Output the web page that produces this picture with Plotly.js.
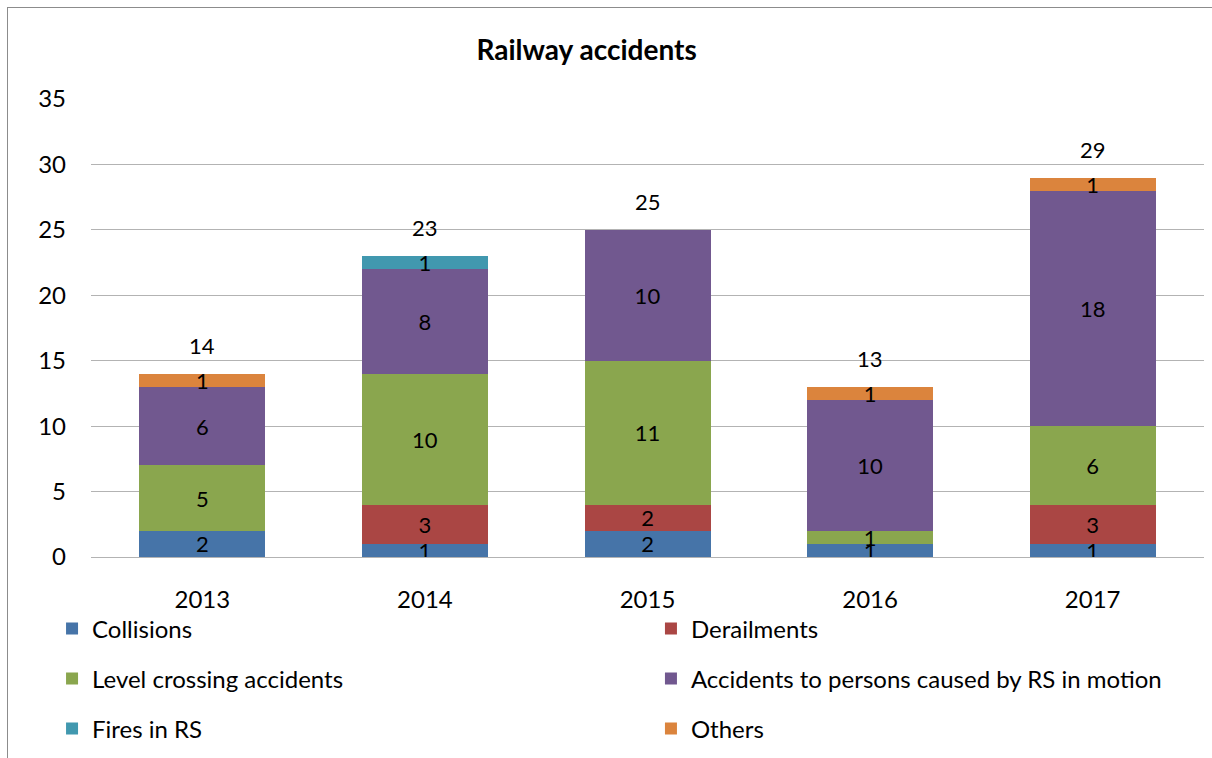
<!DOCTYPE html>
<html>
<head>
<meta charset="utf-8">
<script src="https://cdn.plot.ly/plotly-3.0.1.min.js"></script>
<style>
  body { margin: 0; background: #fff; }
  #chart { width: 1212px; height: 758px; }
  #frame { position: absolute; left: 7px; top: 7px; width: 1220px; height: 780px;
           border: 1px solid #8c8c8c; pointer-events: none; }
</style>
</head>
<body>
<div id="chart"></div>
<div id="frame"></div>
<script>
var years = ['2013', '2014', '2015', '2016', '2017'];
var collisions = [2, 1, 2, 1, 1];
var derailments = [0, 3, 2, 0, 3];
var levelCrossing = [5, 10, 11, 1, 6];
var personsRS = [6, 8, 10, 10, 18];
var firesRS = [0, 1, 0, 0, 0];
var others = [1, 0, 0, 1, 1];

var names = ['Collisions', 'Derailments', 'Level crossing accidents',
  'Accidents to persons caused by RS in motion', 'Fires in RS', 'Others'];
var series = [collisions, derailments, levelCrossing, personsRS, firesRS, others];
var colors = ['#4674a8', '#aa4644', '#8aa64e', '#71588f', '#4198af', '#db843d'];

var font = 'Lato, "Open Sans", sans-serif';

// legend spots: 2 columns, 3 rows
var legX = [-0.0350, 0.5031];
var legY = [-0.1547, -0.2636, -0.3725];

var data = [];
var layout = {
  width: 1212,
  height: 758,
  margin: {l: 91, r: 8, t: 99, b: 200},
  paper_bgcolor: '#fff',
  plot_bgcolor: '#fff',
  font: {family: font, size: 22, color: '#000'},
  showlegend: true,
  title: {
    text: '<b>Railway accidents</b>',
    font: {family: font, size: 28, color: '#000'},
    x: 0.484, xanchor: 'center', xref: 'container',
    y: 1 - 50 / 758, yanchor: 'middle', yref: 'container'
  },
  barmode: 'stack',
  bargap: 0.434,
  xaxis: {
    type: 'category',
    showgrid: false,
    showline: false,
    ticks: '',
    tickfont: {size: 24},
    ticklabelstandoff: 26
  },
  yaxis: {
    range: [0, 35],
    dtick: 5,
    showgrid: true,
    gridcolor: '#b3b3b3',
    gridwidth: 1,
    zeroline: true,
    zerolinecolor: '#b3b3b3',
    zerolinewidth: 1,
    showline: false,
    ticks: '',
    tickfont: {size: 24},
    ticklabelstandoff: 24
  },
  uniformtext: {mode: 'show', minsize: 22},
  annotations: []
};

for (var i = 0; i < series.length; i++) {
  var legName = i === 0 ? 'legend' : 'legend' + (i + 1);
  data.push({
    type: 'bar',
    name: names[i],
    x: years,
    y: series[i],
    text: series[i].map(function (v) { return v ? String(v) : ''; }),
    textposition: 'inside',
    insidetextanchor: 'middle',
    textangle: 0,
    constraintext: 'none',
    textfont: {family: font, size: 22, color: '#000'},
    marker: {color: colors[i], line: {width: 0}},
    hoverinfo: 'name+y',
    showlegend: true,
    legend: legName
  });
  layout[legName] = {
    x: legX[i % 2],
    y: legY[Math.floor(i / 2)],
    xanchor: 'left',
    yanchor: 'middle',
    bgcolor: 'rgba(0,0,0,0)',
    font: {family: font, size: 24, color: '#000'}
  };
}

// totals above the bars (x given as category index)
for (var j = 0; j < years.length; j++) {
  var total = 0;
  for (var k = 0; k < series.length; k++) total += series[k][j];
  layout.annotations.push({
    x: j,
    y: total,
    text: String(total),
    showarrow: false,
    yanchor: 'bottom',
    yshift: 13,
    font: {family: font, size: 22, color: '#000'}
  });
}

Plotly.newPlot('chart', data, layout, {displayModeBar: false});
</script>
</body>
</html>
